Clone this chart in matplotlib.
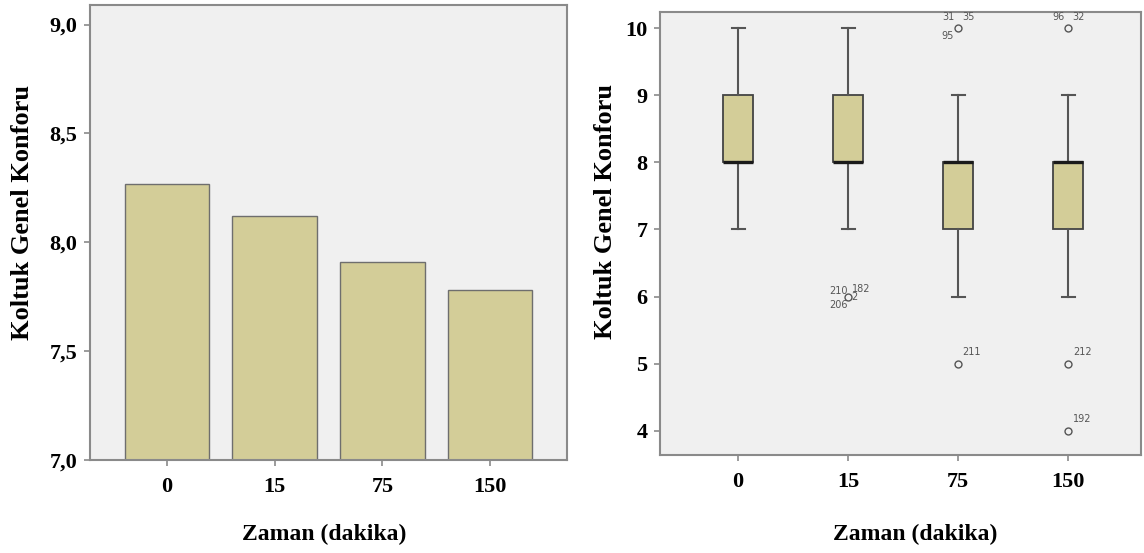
import matplotlib.pyplot as plt
import numpy as np

plt.rcParams['font.family'] = ['Liberation Serif', 'DejaVu Serif']

# data
zaman = ['0', '15', '75', '150']
ortalama = [8.27, 8.12, 7.91, 7.78]

q1 = [8, 8, 7, 7]
medyan = [8, 8, 8, 8]
q3 = [9, 9, 8, 8]
alt_biyik = [7, 7, 6, 6]
ust_biyik = [10, 10, 9, 9]
aykiri = [[], [6], [10, 5], [10, 5, 4]]
aykiri_etiket = [[], [['210', '182', '2', '206']], [['31', '35', '95'], ['211']],
                 [['96', '32'], ['212'], ['192']]]

bar_renk = '#d3cd98'
zemin = '#f0f0f0'
kenar = '#6e6e6e'

fig = plt.figure(figsize=(11.44, 5.53), dpi=100)

# ---- left: bar chart
ax1 = fig.add_axes([90 / 1144, 93 / 553, 477 / 1144, 455 / 553])
ax1.set_facecolor(zemin)
x = np.arange(len(zaman))
ax1.bar(x, np.array(ortalama) - 7.0, bottom=7.0, width=0.78, color=bar_renk,
        edgecolor=kenar, linewidth=1.0)
ax1.set_xlim(-0.71, 3.71)
ax1.set_ylim(7.0, 9.09)
ax1.set_yticks([7.0, 7.5, 8.0, 8.5, 9.0])
ax1.set_yticklabels(['7,0', '7,5', '8,0', '8,5', '9,0'])
ax1.set_xticks(x)
ax1.set_xticklabels(zaman)
ax1.set_ylabel('Koltuk Genel Konforu', fontsize=19, fontweight='bold')
ax1.set_xlabel('Zaman (dakika)', fontsize=17, fontweight='bold')
ax1.yaxis.set_label_coords(-0.118, 0.545)
ax1.xaxis.set_label_coords(0.49, -0.14)

# ---- right: boxplot
ax2 = fig.add_axes([660 / 1144, 98 / 553, 481 / 1144, 443 / 553])
ax2.set_facecolor(zemin)
stats = []
for i in range(len(zaman)):
    stats.append({'q1': q1[i], 'med': medyan[i], 'q3': q3[i],
                  'whislo': alt_biyik[i], 'whishi': ust_biyik[i],
                  'fliers': aykiri[i], 'label': zaman[i]})
ax2.bxp(stats, positions=x, widths=0.27, patch_artist=True,
        boxprops=dict(facecolor=bar_renk, edgecolor='#444444', linewidth=1.3),
        medianprops=dict(color='#1a1a1a', linewidth=2.4),
        whiskerprops=dict(color='#555555', linewidth=1.5),
        capprops=dict(color='#555555', linewidth=1.5),
        capwidths=0.12,
        flierprops=dict(marker='o', markerfacecolor='none', markeredgecolor='#555555',
                        markersize=5, markeredgewidth=1.0))

# outlier case labels
ofs = {
    1: [[(-0.09, 0.08), (0.03, 0.12), (0.03, 0.0), (-0.09, -0.12)]],
    2: [[(-0.09, 0.16), (0.04, 0.16), (-0.1, -0.12)], [(0.04, 0.18)]],
    3: [[(-0.09, 0.16), (0.04, 0.16)], [(0.04, 0.18)], [(0.04, 0.18)]],
}
for i, grup in enumerate(aykiri_etiket):
    for j, etiketler in enumerate(grup):
        for k, et in enumerate(etiketler):
            dx, dy = ofs[i][j][k]
            ax2.text(x[i] + dx, aykiri[i][j] + dy, et, fontsize=7, color='#555555',
                     family='DejaVu Sans', ha='left' if dx > 0 else 'center',
                     va='center')

ax2.set_xlim(-0.71, 3.66)
ax2.set_ylim(3.64, 10.24)
ax2.set_yticks([4, 5, 6, 7, 8, 9, 10])
ax2.set_xticks(x)
ax2.set_xticklabels(zaman)
ax2.set_ylabel('Koltuk Genel Konforu', fontsize=19, fontweight='bold')
ax2.set_xlabel('Zaman (dakika)', fontsize=17, fontweight='bold')
ax2.yaxis.set_label_coords(-0.09, 0.55)
ax2.xaxis.set_label_coords(0.53, -0.155)

for ax in (ax1, ax2):
    for sp in ax.spines.values():
        sp.set_color('#8a8a8a')
        sp.set_linewidth(1.5)
    ax.tick_params(colors='#8a8a8a', labelcolor='black', length=4, width=1.2,
                   labelsize=16)
    ax.tick_params(axis='y', pad=5)
    ax.tick_params(axis='x', pad=8)
    for lbl in ax.get_xticklabels() + ax.get_yticklabels():
        lbl.set_fontweight('bold')

fig.savefig('out.png', dpi=100)
